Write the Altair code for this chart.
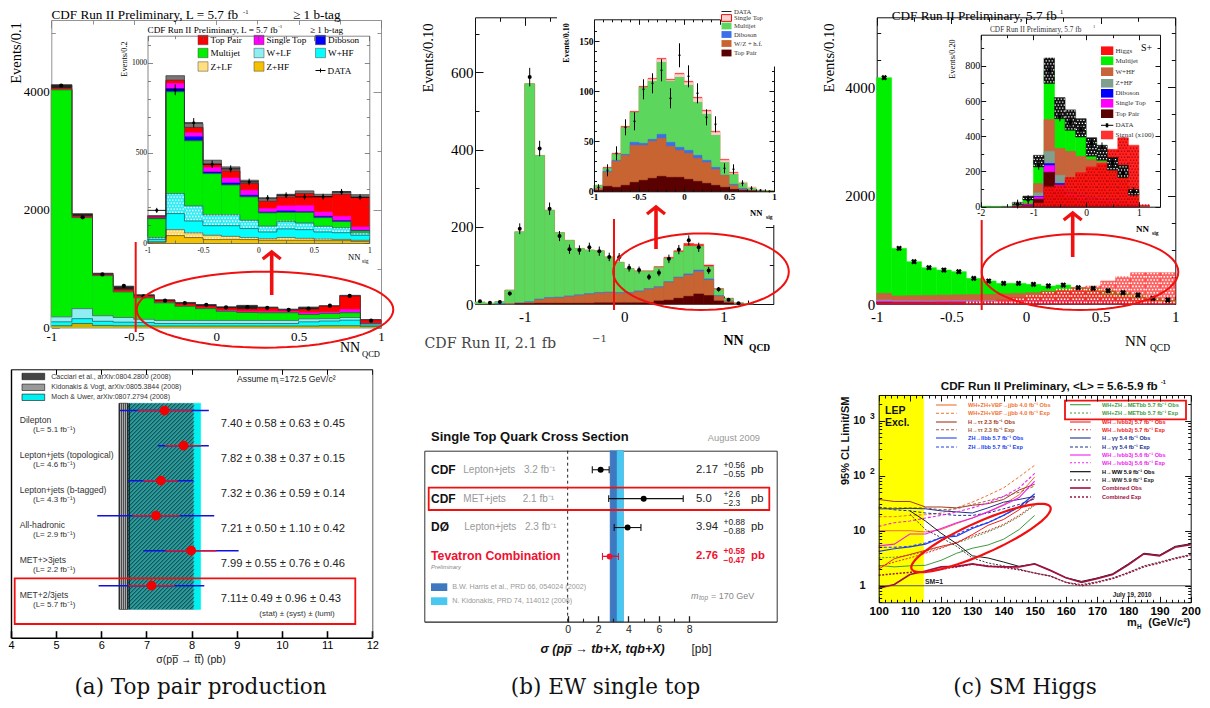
import math
import altair as alt

W, H = 1194, 692
OY = 8
SERIF = "Liberation Serif"
WIDE = "DejaVu Serif"
SANS = "Liberation Sans"
EMPTY = alt.InlineData(values=[{"v": 0}])
L = []

# ---------- data: panel A (top pair, NN_QCD + NN_sig) ----------
a_edges = [-1 + i * 0.125 for i in range(17)]
a_gold = [30, 68, 35, 30, 28, 25, 25, 25, 25, 25, 25, 25, 25, 30, 30, 15]
a_cyan = [96, 150, 105, 90, 85, 68, 68, 68, 68, 68, 68, 68, 96, 110, 124, 40]
a_wlf = [180, 320, 200, 170, 140, 120, 120, 120, 120, 120, 120, 120, 147, 150, 170, 60]
a_green = [4035, 1865, 880, 605, 503, 418, 360, 320, 275, 255, 250, 250, 220, 237, 250, 68]
a_mag = [4040, 1870, 885, 612, 510, 425, 365, 330, 290, 272, 272, 272, 250, 262, 305, 75]
a_red = [4060, 1890, 895, 640, 535, 450, 400, 360, 325, 310, 325, 290, 305, 355, 525, 125]
a_err = [4120, 1930, 920, 700, 555, 470, 425, 390, 350, 375, 345, 310, 345, 370, 545, 135]
a_data_x = [-0.94, -0.81, -0.69, -0.56, -0.44, -0.31, -0.19, -0.06, 0.06, 0.19, 0.31, 0.44, 0.56, 0.69, 0.81, 0.94]
a_data = [4108, 1870, 900, 705, 530, 455, 415, 385, 340, 345, 335, 300, 320, 370, 535, 115]

a2_edges = [-1 + i / 6 for i in range(13)]
a2_gold = [5, 41, 30, 19, 20, 19, 15, 15, 15, 13, 13, 9]
a2_zlf = [6, 74, 56, 43, 37, 30, 24, 30, 26, 22, 20, 15]
a2_cyan = [20, 163, 122, 96, 96, 80, 61, 78, 74, 61, 57, 43]
a2_wlf = [30, 274, 206, 156, 156, 126, 94, 120, 111, 93, 85, 56]
a2_green = [135, 839, 567, 385, 322, 256, 167, 170, 170, 141, 119, 67]
a2_blue = [138, 857, 589, 394, 333, 265, 172, 178, 174, 148, 124, 70]
a2_mag = [140, 885, 611, 419, 361, 293, 191, 206, 207, 172, 148, 89]
a2_red = [148, 903, 641, 437, 400, 330, 232, 255, 274, 256, 270, 252]
a2_err = [152, 928, 663, 459, 422, 348, 246, 270, 289, 270, 285, 268]
a2_data = [181, 850, 667, 437, 411, 339, 250, 265, 256, 257, 283, 254]
a2_derr = [14, 30, 26, 21, 20, 18, 16, 16, 16, 16, 17, 16]

# ---------- data: panel B (single top) ----------
b_edges = [-1.5 + i * 0.1 for i in range(31)]
b_total = [5, 2, 6, 36, 187, 571, 385, 243, 185, 165, 144, 140, 138, 122, 108, 92, 86, 86, 97, 121, 138, 157, 155, 101, 40, 15, 3, 1, 0, 0]
b_green = [5, 2, 6, 36, 187, 571, 385, 243, 185, 165, 144, 140, 138, 122, 108, 92, 85, 85, 95, 118, 135, 150, 150, 97, 38, 14, 3, 1, 0, 0]
b_blue = [0, 0, 1, 1, 3, 6, 13, 17, 18, 21, 24, 27, 30, 31, 30, 30, 34, 40, 45, 58, 70, 78, 88, 65, 22, 8, 1, 0, 0, 0]
b_brown = [0, 0, 0, 1, 2, 4, 11, 15, 16, 19, 22, 25, 28, 29, 28, 28, 32, 38, 43, 56, 68, 75, 84, 62, 20, 7, 1, 0, 0, 0]
b_dark = [0, 0, 0, 0, 1, 1, 2, 2, 2, 2, 2, 2, 3, 3, 3, 3, 3, 3, 8, 10, 15, 20, 26, 22, 8, 3, 0, 0, 0, 0]
b_data_x = [-1.45, -1.35, -1.25, -1.15, -1.05, -0.95, -0.85, -0.75, -0.65, -0.55, -0.45, -0.35, -0.25, -0.15, -0.05, 0.05, 0.15, 0.25, 0.35, 0.45, 0.55, 0.65, 0.75, 0.85, 0.95, 1.05, 1.15]
b_data = [7, 3, 5, 27, 195, 588, 403, 247, 176, 142, 140, 147, 137, 122, 121, 94, 88, 70, 81, 117, 141, 165, 147, 87, 38, 11, 2]
b_derr = [3, 2, 2, 5, 14, 24, 20, 16, 13, 12, 12, 12, 12, 11, 11, 10, 9, 8, 9, 11, 12, 13, 12, 9, 6, 3, 2]

b2_edges = [-1 + i * 0.1 for i in range(21)]
b2_total = [6, 24, 38, 65, 80, 105, 113, 133, 112, 118, 110, 94, 81, 60, 32, 19, 9, 4, 1, 0.5]
b2_green = [6, 23, 37, 64, 79, 104, 110, 129, 110, 114, 106, 89, 77, 56, 29, 17, 8, 3, 1, 0.5]
b2_blue = [3, 20, 31, 37, 49, 48, 52, 57, 49, 44, 41, 36, 31, 24, 16, 7, 3, 1, 0.3, 0]
b2_brown = [3, 19, 30, 36, 46, 46, 50, 53, 45, 41, 38, 33, 29, 22, 16, 6, 2, 1, 0.2, 0]
b2_dark = [1, 5, 4, 6, 9, 11, 13, 15, 14, 14, 12, 10, 8, 6, 4, 2, 1, 0.5, 0, 0]
b2_data_x = [-0.95, -0.85, -0.75, -0.65, -0.55, -0.45, -0.35, -0.25, -0.15, -0.05, 0.05, 0.15, 0.25, 0.35, 0.45, 0.55, 0.65, 0.75, 0.85, 0.95]
b2_data = [4, 21, 38, 64, 70, 102, 108, 121, 93, 136, 115, 98, 74, 67, 23, 22, 8, 3, 1, 0]
b2_derr = [3, 6, 7, 8, 9, 10, 10, 11, 10, 12, 11, 10, 8, 8, 5, 5, 3, 2, 1, 0]

# ---------- data: panel C (Higgs) ----------
c_edges = [-1 + i * 0.1 for i in range(21)]
c_green = [4176, 1027, 781, 670, 627, 597, 473, 424, 381, 381, 363, 332, 350, 301, 289, 246, 209, 166, 105, 74]
c_orange = [197, 150, 155, 160, 165, 170, 175, 180, 190, 197, 209, 228, 246, 258, 235, 165, 135, 105, 60, 40]
c_gray = [75, 60, 60, 58, 58, 60, 60, 62, 65, 70, 72, 75, 80, 80, 70, 60, 50, 40, 30, 20]
c_mag = [50, 42, 42, 42, 45, 45, 48, 50, 52, 55, 55, 58, 58, 55, 50, 45, 40, 30, 25, 15]
c_dark = [25, 22, 22, 22, 22, 22, 24, 24, 25, 25, 25, 25, 25, 25, 25, 22, 20, 15, 10, 8]
c_signal = [20, 20, 20, 22, 25, 28, 30, 43, 74, 117, 160, 228, 270, 307, 332, 424, 504, 578, 578, 578]
c_data_x = [-0.95 + i * 0.1 for i in range(20)]

c2_edges = [-2 + i * 0.2 for i in range(18)]
c2_green = [3, 2, 3, 19, 50, 268, 774, 562, 495, 430, 377, 302, 245, 190, 85, 0, 0]
c2_orange = [0, 0, 1, 5, 20, 132, 496, 332, 315, 287, 268, 255, 190, 150, 70, 0, 0]
c2_gray = [0, 0, 1, 4, 15, 79, 315, 179, 104, 75, 65, 55, 45, 35, 20, 0, 0]
c2_blue = [0, 0, 0, 3, 12, 58, 245, 132, 85, 65, 55, 45, 40, 30, 15, 0, 0]
c2_mag = [0, 0, 0, 3, 11, 55, 234, 123, 75, 55, 48, 40, 35, 25, 12, 0, 0]
c2_dark = [0, 0, 0, 2, 8, 43, 196, 94, 57, 42, 35, 30, 25, 18, 8, 0, 0]
c2_signal = [0, 0, 0, 2, 5, 20, 113, 123, 166, 194, 226, 245, 326, 392, 349, 9, 0]
c2_errlo = [0, 0, 0, 12, 38, 226, 700, 500, 434, 396, 287, 264, 208, 166, 66, 0, 0]
c2_errhi = [0, 0, 0, 25, 60, 292, 845, 620, 550, 500, 392, 349, 279, 236, 98, 0, 0]
c2_data_x = [-1.3, -1.1, -0.9, -0.7, -0.5, -0.3, -0.1, 0.1, 0.3, 0.5, 0.7, 0.9]
c2_data = [15, 40, 235, 775, 510, 480, 440, 360, 340, 250, 190, 85]

# ---------- data: panel D (top cross sections) ----------
d_rows = [6, 5, 4, 3, 2, 1]
d_val = [7.40, 7.82, 7.32, 7.21, 7.99, 7.11]
d_tot_lo = [6.41, 7.25, 6.59, 5.91, 6.93, 5.94]
d_tot_hi = [8.38, 8.38, 8.04, 8.50, 9.04, 8.28]
d_stat_lo = [6.80, 7.42, 6.93, 6.69, 7.42, 6.60]
d_stat_hi = [8.00, 8.21, 7.69, 7.73, 8.55, 7.62]
d_names = ["Dilepton", "Lepton+jets (topological)", "Lepton+jets (b-tagged)", "All-hadronic", "MET+>3jets", "MET+2/3jets"]
d_lumi = ["(L= 5.1 fb\u207b\u00b9)", "(L= 4.6 fb\u207b\u00b9)", "(L= 4.3 fb\u207b\u00b9)", "(L= 2.9 fb\u207b\u00b9)", "(L= 2.2 fb\u207b\u00b9)", "(L= 5.7 fb\u207b\u00b9)"]
d_txt = ["7.40 \u00b1 0.58 \u00b1 0.63 \u00b1 0.45", "7.82 \u00b1 0.38 \u00b1 0.37 \u00b1 0.15", "7.32 \u00b1 0.36 \u00b1 0.59 \u00b1 0.14",
         "7.21 \u00b1 0.50 \u00b1 1.10 \u00b1 0.42", "7.99 \u00b1 0.55 \u00b1 0.76 \u00b1 0.46", "7.11\u00b1 0.49 \u00b1 0.96 \u00b1 0.43"]

# ---------- data: panel E (single top cross sections) ----------
e_rows = [4, 3, 2, 1]
e_val = [2.17, 5.0, 3.94, 2.76]
e_lo = [1.62, 2.7, 3.06, 2.29]
e_hi = [2.73, 7.6, 4.82, 3.34]

# ---------- data: panel F (Higgs limits) ----------
f_m = [100, 105, 110, 115, 120, 125, 130, 135, 140, 145, 150]
f_m2 = [100 + 5 * i for i in range(21)]
f_m3 = [110 + 5 * i for i in range(19)]
jjbb_o = [10, 10, 10, 9.5, 10.5, 13.5, 17, 22, 30, 45, 95]
jjbb_e = [18, 18, 19, 19.5, 21, 26, 33, 44, 60, 95, 155]
tau_o = [37, 34, 34, 27, 27, 26, 29, 31, 37, 55, 70]
tau_e = [26, 26, 26, 26, 24, 25, 30, 35, 42, 50, 65]
llbb_o = [4.2, 4.7, 5.1, 5.7, 7.5, 8, 11, 14, 19, 27, 47]
llbb_e = [5, 5, 5.2, 6, 7.5, 8.5, 11.5, 14, 19, 27, 40]
met_o = [2.35, 2.2, 2.3, 2.35, 2.9, 3.9, 4.8, 5.5, 7, 10.5, 19]
met_e = [3.2, 3.3, 3.6, 4.2, 5, 6, 7.5, 9.5, 12.5, 18, 29]
lv2_o = [2, 3.1, 3.7, 4.4, 5.2, 6, 8.5, 12.5, 16, 24, 42]
lv2_e = [2.2, 2.7, 3.2, 3.9, 4.8, 6.2, 8, 10, 13, 19, 30]
gg_o = [25, 25, 25.5, 25, 23, 22, 21, 26, 33, 37, 42]
gg_e = [27, 24, 23, 21, 20, 19, 19, 21, 25, 30, 38]
lv3_o = [5.3, 5.7, 8.7, 8.7, 11, 14, 17, 22, 29, 40, 80]
lv3_e = [12, 14, 15, 17, 19, 22, 26, 32, 42, 60, 110]
ww_o = [23, 15, 9, 5.8, 3.5, 3.2, 2.7, 2.25, 2.5, 1.9, 1.4, 1.2, 1.38, 1.65, 2.5, 3.9, 3.6, 5.2, 5.8]
ww_e = [20, 10.5, 7.5, 5.2, 3.2, 2.6, 2.3, 2.0, 1.7, 1.5, 1.15, 1.05, 1.18, 1.38, 1.75, 2.3, 2.7, 3.2, 3.7]
cmb_o = [0.9, 1.05, 1.6, 1.85, 2.2, 2.25, 2.5, 2.25, 2.2, 2.2, 2.5, 1.9, 1.4, 1.15, 1.35, 1.6, 2.4, 3.8, 3.5, 5.0, 5.6]
cmb_e = [1.55, 1.65, 1.75, 1.8, 2.0, 2.2, 2.45, 2.3, 2.15, 1.95, 1.7, 1.5, 1.15, 1.0, 1.15, 1.35, 1.7, 2.2, 2.6, 3.1, 3.6]


# ---------- helpers ----------
class P:
    def __init__(s, xd, xr, yd, yr, xt="linear", yt="linear"):
        s.xd, s.xr, s.yd, s.yr = xd, xr, yd, yr
        s.x = alt.Scale(domain=xd, range=[xr[0] - 8, xr[1] - 8], type=xt, nice=False, zero=False)
        s.y = alt.Scale(domain=yd, range=[yr[0] - OY, yr[1] - OY], type=yt, nice=False, zero=False)
        s.kx = abs(xr[1] - xr[0]) / (xd[1] - xd[0])
        if yt == "linear":
            s.ky = abs(yr[1] - yr[0]) / (yd[1] - yd[0])


def bars(p, edges, lows, highs, fill, stroke=None, sw=0.5, opacity=1):
    rows = []
    for i in range(len(edges) - 1):
        lo = lows[i] if isinstance(lows, list) else lows
        if highs[i] > lo:
            rows.append({"a": edges[i], "b": edges[i + 1], "lo": lo, "hi": highs[i]})
    L.append(alt.Chart(alt.InlineData(values=rows)).mark_rect(
        fill=fill, stroke=stroke or fill, strokeWidth=sw, opacity=opacity).encode(
        x=alt.X("a:Q", scale=p.x, axis=None), x2=alt.X2("b"),
        y=alt.Y("lo:Q", scale=p.y, axis=None), y2=alt.Y2("hi")))


def outline(p, edges, tops, color="#333", sw=0.7):
    rows = [{"a": a, "b": b} for a, b in zip(edges, list(tops) + [tops[-1]])]
    L.append(alt.Chart(alt.InlineData(values=rows)).mark_line(color=color, strokeWidth=sw, interpolate="step-after").encode(
        x=alt.X("a:Q", scale=p.x, axis=None), y=alt.Y("b:Q", scale=p.y, axis=None)))


def speck(p, edges, lows, highs, step, color, size, shape="square"):
    rows = []
    dx, dy = step / p.kx, step / p.ky
    for i in range(len(edges) - 1):
        lo = lows[i] if isinstance(lows, list) else lows
        if highs[i] <= lo:
            continue
        r, y = 0, lo + dy / 2
        while y < highs[i]:
            x = edges[i] + dx * (0.25 + 0.5 * (r % 2))
            while x < edges[i + 1]:
                rows.append({"a": x, "b": y})
                x += dx
            y += dy
            r += 1
    L.append(alt.Chart(alt.InlineData(values=rows)).mark_point(
        filled=True, fill=color, size=size, shape=shape, opacity=1, strokeWidth=0).encode(
        x=alt.X("a:Q", scale=p.x, axis=None), y=alt.Y("b:Q", scale=p.y, axis=None)))


def vrules(p, xs, lo, hi, color="black", sw=1, dash=None):
    rows = [{"a": a, "b": b, "c": c} for a, b, c in zip(xs, lo, hi)]
    kw = {"strokeDash": dash} if dash else {}
    L.append(alt.Chart(alt.InlineData(values=rows)).mark_rule(color=color, strokeWidth=sw, **kw).encode(
        x=alt.X("a:Q", scale=p.x, axis=None),
        y=alt.Y("b:Q", scale=p.y, axis=None), y2=alt.Y2("c")))


def hrules(p, lo, hi, ys, color="black", sw=1):
    rows = [{"a": a, "b": b, "c": c} for a, b, c in zip(lo, hi, ys)]
    L.append(alt.Chart(alt.InlineData(values=rows)).mark_rule(color=color, strokeWidth=sw).encode(
        x=alt.X("a:Q", scale=p.x, axis=None), x2=alt.X2("b"),
        y=alt.Y("c:Q", scale=p.y, axis=None)))


def dots(p, xs, ys, color="black", size=16, shape="circle", angle=0, filled=True, sw=0):
    rows = [{"a": a, "b": b} for a, b in zip(xs, ys)]
    L.append(alt.Chart(alt.InlineData(values=rows)).mark_point(
        filled=filled, color=color, size=size, shape=shape, angle=angle, opacity=1, strokeWidth=sw).encode(
        x=alt.X("a:Q", scale=p.x, axis=None), y=alt.Y("b:Q", scale=p.y, axis=None)))


def curve(p, xs, ys, color, sw=1, dash=None):
    rows = [{"a": a, "b": b} for a, b in zip(xs, ys)]
    kw = {"strokeDash": dash} if dash else {}
    L.append(alt.Chart(alt.InlineData(values=rows)).mark_line(color=color, strokeWidth=sw, **kw).encode(
        x=alt.X("a:Q", scale=p.x, axis=None), y=alt.Y("b:Q", scale=p.y, axis=None)))


def ax(p, chan, orient, pos, values, tick=0, labels=False, domain=False, size=10, font=SERIF,
       weight="normal", pad=2, z=0, color="#444", width=0.8, lcolor="black"):
    q = pos - (OY if orient in ("top", "bottom") else 8)
    off = {"top": -q, "bottom": q - H, "left": -q, "right": q - W}[orient]
    kw = dict(orient=orient, offset=off, values=values, title=None, grid=False, labels=labels,
              domain=domain, zindex=z, ticks=tick > 0, labelOverlap=False, labelFlush=False, labelBound=False)
    if tick > 0:
        kw.update(tickSize=tick, tickColor=color, tickWidth=width)
    if domain:
        kw.update(domainColor=color, domainWidth=width)
    if labels:
        kw.update(labelFont=font, labelFontSize=size, labelFontWeight=weight, labelPadding=pad,
                  labelColor=lcolor, labelExpr="datum.value+''", labelAngle=0)
    axis = alt.Axis(**kw)
    dom = p.xd if chan == "x" else p.yd
    base = alt.Chart(alt.InlineData(values=[{"v": dom[0]}])).mark_point(opacity=0)
    if chan == "x":
        L.append(base.encode(x=alt.X("v:Q", scale=p.x, axis=axis), y=alt.value(0)))
    else:
        L.append(base.encode(y=alt.Y("v:Q", scale=p.y, axis=axis), x=alt.value(0)))


def frame(p, xmaj, xmin, ymaj, ymin, t1=7, t2=3.5, z=0, color="#444", width=0.8, sides="tblr"):
    x0, x1 = p.xr
    yb, yt = p.yr
    if "b" in sides:
        ax(p, "x", "top", yb, xmaj, t1, domain=True, z=z, color=color, width=width)
        if xmin: ax(p, "x", "top", yb, xmin, t2, z=z, color=color, width=width)
    if "t" in sides:
        ax(p, "x", "bottom", yt, xmaj, t1, domain=True, z=z, color=color, width=width)
        if xmin: ax(p, "x", "bottom", yt, xmin, t2, z=z, color=color, width=width)
    if "l" in sides:
        ax(p, "y", "right", x0, ymaj, t1, domain=True, z=z, color=color, width=width)
        if ymin: ax(p, "y", "right", x0, ymin, t2, z=z, color=color, width=width)
    if "r" in sides:
        ax(p, "y", "left", x1, ymaj, t1, domain=True, z=z, color=color, width=width)
        if ymin: ax(p, "y", "left", x1, ymin, t2, z=z, color=color, width=width)


def T(x, y, s, size=10, font=SERIF, color="black", align="left", weight="normal", style="normal", angle=0):
    L.append(alt.Chart(EMPTY).mark_text(font=font, fontSize=size, color=color, align=align, baseline="middle",
                                        fontWeight=weight, fontStyle=style, angle=angle).encode(
        x=alt.value(x - 8), y=alt.value(y - OY), text=alt.value(s)))


def R(x0, y0, x1, y1, fill="white", stroke=None, sw=0, opacity=1):
    kw = {"stroke": stroke, "strokeWidth": sw} if stroke else {"strokeWidth": 0}
    if fill:
        kw["fill"] = fill
        kw["fillOpacity"] = opacity
    else:
        kw["fillOpacity"] = 0
    L.append(alt.Chart(EMPTY).mark_rect(**kw).encode(
        x=alt.value(x0 - 8), x2=alt.value(x1 - 8), y=alt.value(y0 - OY), y2=alt.value(y1 - OY)))


def S(x0, y0, x1, y1, color="black", sw=1, dash=None):
    kw = {"strokeDash": dash} if dash else {}
    L.append(alt.Chart(EMPTY).mark_rule(color=color, strokeWidth=sw, **kw).encode(
        x=alt.value(x0 - 8), x2=alt.value(x1 - 8), y=alt.value(y0 - OY), y2=alt.value(y1 - OY)))


def shape(cx, cy, path, color="red", sw=2):
    L.append(alt.Chart(EMPTY).mark_point(shape=path, size=4, filled=False, color=color, strokeWidth=sw, opacity=1).encode(
        x=alt.value(cx - 8), y=alt.value(cy - OY)))


def ellipse(cx, cy, rx, ry, rot=0.0, sw=2):
    c, s = math.cos(math.radians(rot)), math.sin(math.radians(rot))
    pts = []
    for i in range(72):
        t = 2 * math.pi * i / 72
        ex, ey = rx * math.cos(t), ry * math.sin(t)
        pts.append(f"{ex * c - ey * s:.2f},{ex * s + ey * c:.2f}")
    shape(cx, cy, "M" + "L".join(pts) + "Z", "#f01010", sw)


def arrow(x, y0, y1, hw=9, hh=7):
    S(x, y0, x, y1, "#f01010", 3.6)
    shape(x, y1, f"M{-hw},{hh}L0,0L{hw},{hh}", "#f01010", 3.4)


# ==================== Panel A main ====================
pa = P([-1, 1], [51.3, 381], [0, 5220], [327.5, 20])
frame(pa, [-1, -0.5, 0, 0.5, 1], [-0.75, -0.25, 0.25, 0.75], [0, 2000, 4000], [1000, 3000, 5000], t1=8, t2=4, color="#777")
ax(pa, "x", "bottom", 327.5, [-1, -0.5, 0, 0.5, 1], labels=True, size=13, pad=3)
ax(pa, "y", "left", 51.3, [0, 2000, 4000], labels=True, size=13, pad=2)
bars(pa, a_edges, 0, a_err, "#222")
bars(pa, a_edges, 0, a_red, "#ff0000")
bars(pa, a_edges, 0, a_mag, "#ff00ff")
bars(pa, a_edges, 0, a_green, "#00ee00")
bars(pa, a_edges, 0, a_wlf, "#8feef2")
bars(pa, a_edges, 0, a_cyan, "#00ffff")
bars(pa, a_edges, 0, a_gold, "#d8b000")
for tops in (a_err, a_green, a_wlf, a_cyan, a_gold):
    outline(pa, a_edges, tops, "#333", 0.6)
dots(pa, a_data_x, a_data, "black", 18)
T(51.5, 15, "CDF Run II Preliminary, L = 5.7 fb", 13.2)
T(243, 11.5, "-1", 6.5)
T(293, 15, "\u2265 1 b-tag", 13.2)
T(17, 53, "Events/0.1", 14.5, angle=270, align="center")
T(340, 348, "NN", 14)
T(362, 354, "QCD", 8.5)
R(118, 25, 372, 265)
# ---------- inset A ----------
pa2 = P([-1, 1], [147.5, 369.3], [0, 1150], [243, 35.7])
bars(pa2, a2_edges, 0, a2_err, "#777")
bars(pa2, a2_edges, 0, a2_red, "#ff0000")
bars(pa2, a2_edges, 0, a2_mag, "#ff00ff")
bars(pa2, a2_edges, 0, a2_blue, "#0000ff")
bars(pa2, a2_edges, 0, a2_green, "#00ee00")
bars(pa2, a2_edges, 0, a2_wlf, "#2feef5")
speck(pa2, a2_edges, a2_cyan, a2_wlf, 3, "white", 2)
bars(pa2, a2_edges, 0, a2_cyan, "#00ffff")
bars(pa2, a2_edges, 0, a2_zlf, "#ffd860")
speck(pa2, a2_edges, a2_gold, a2_zlf, 3, "white", 1.5)
bars(pa2, a2_edges, 0, a2_gold, "#f5c000")
for tops in (a2_err, a2_red, a2_green, a2_wlf, a2_cyan, a2_zlf, a2_gold):
    outline(pa2, a2_edges, tops, "#333", 0.6)
centers = [(a2_edges[i] + a2_edges[i + 1]) / 2 for i in range(12)]
vrules(pa2, centers, [v - e for v, e in zip(a2_data, a2_derr)], [v + e for v, e in zip(a2_data, a2_derr)], "black", 1)
hrules(pa2, a2_edges[:-1], a2_edges[1:], a2_data, "black", 0.9)
dots(pa2, centers, a2_data, "black", 9)
frame(pa2, [-1, -0.5, 0, 0.5, 1], [-0.75, -0.25, 0.25, 0.75], [0, 500, 1000], [100, 200, 300, 400, 600, 700, 800, 900, 1100], t1=5, t2=3, z=1, color="#555", width=0.7)
ax(pa2, "x", "bottom", 243, [-1, -0.5, 0, 0.5, 1], labels=True, size=7.5, pad=3, z=1)
ax(pa2, "y", "left", 147.5, [0, 500, 1000], labels=True, size=7.5, pad=1, z=1)
T(147.5, 29.5, "CDF Run II Preliminary, L = 5.7 fb", 9.2)
T(278, 26, "-1", 5)
T(310, 29.5, "\u2265 1 b-tag", 9.2)
T(124.7, 59, "Events/0.2", 8.3, angle=270, align="center")
T(348, 257, "NN", 8.5)
T(362, 261, "sig", 5.5)
a_leg = [("Top Pair", 198, 40, "#ff0000"), ("Single Top", 254, 40, "#ff00ff"), ("Diboson", 315.5, 40, "#0000ff"),
         ("Multijet", 198, 53, "#00ee00"), ("W+LF", 254, 53, "#8feef2"), ("W+HF", 315.5, 53, "#00ffff"),
         ("Z+LF", 198, 66.5, "#ffe080"), ("Z+HF", 254, 66.5, "#f5c000")]
for name, x, y, col in a_leg:
    R(x, y - 4.7, x + 10, y + 4.7, col, "#444", 0.5)
    T(x + 12.5, y, name, 9.2)
S(315.5, 70.5, 325.5, 70.5, "black", 1)
S(320.5, 68.5, 320.5, 72.5, "black", 1)
T(327.5, 70.5, "DATA", 9.2)
S(135.7, 242, 135.7, 332, "#f01010", 2)
arrow(271.7, 295, 252)
ellipse(265, 309.7, 128.3, 38, 0, 2)

# ==================== Panel B main ====================
pb = P([-1.5, 1.5], [475, 773.3], [0, 743], [304, 17.3])
frame(pb, [-1, 0, 1], [-1.25, -0.75, -0.5, -0.25, 0.25, 0.5, 0.75, 1.25], [0, 200, 400, 600], [100, 300, 500, 700], t1=8, t2=4, color="#111", width=1)
ax(pb, "x", "bottom", 304, [-1, 0, 1], labels=True, size=15, pad=5)
ax(pb, "y", "left", 475, [0, 200, 400, 600], labels=True, size=15, pad=2)
bars(pb, b_edges, 0, b_total, "#ff2020")
bars(pb, b_edges, 0, b_green, "#5cd65c")
bars(pb, b_edges, 0, b_blue, "#3a6fe8")
bars(pb, b_edges, 0, b_brown, "#c86432")
bars(pb, b_edges, 0, b_dark, "#5a0000")
vrules(pb, b_data_x, [v - e for v, e in zip(b_data, b_derr)], [v + e for v, e in zip(b_data, b_derr)], "black", 1)
dots(pb, b_data_x, b_data, "black", 16)
T(429, 58, "Events/0.10", 14.5, angle=270, align="center")
T(424.5, 344, "CDF Run II, 2.1 fb", 14.2, WIDE, "#444")
T(592, 339, "\u22121", 10, WIDE, "#444")
T(723.5, 341, "NN", 14, weight="bold")
T(749, 348, "QCD", 9.5, weight="bold")
R(557, 0, 780, 225)
# ---------- inset B ----------
pb2 = P([-1, 1], [594, 774], [0, 172], [191.3, 19.3])
pb2r = P([-1, 0.4], [594, 720], [0, 125], [191.3, 66])
bars(pb2, b2_edges, 0, b2_total, "#ff2020")
bars(pb2, b2_edges, b2_green, [t - 1 if t > 10 else t for t in b2_total], "#ffd0d0", "#ffd0d0")
bars(pb2, b2_edges, 0, b2_green, "#5cd65c")
bars(pb2, b2_edges, 0, b2_blue, "#3a6fe8")
bars(pb2, b2_edges, 0, b2_brown, "#c86432")
bars(pb2, b2_edges, 0, b2_dark, "#5a0000")
vrules(pb2, b2_data_x, [v - e for v, e in zip(b2_data, b2_derr)], [v + e for v, e in zip(b2_data, b2_derr)], "black", 1)
dots(pb2, b2_data_x, b2_data, "black", 5)
ymaj = [0, 50, 100, 150]
ymin = [10, 20, 30, 40, 60, 70, 80, 90, 110, 120, 130, 140, 160]
xmaj = [-1, -0.5, 0, 0.5, 1]
xmin = [-0.9, -0.8, -0.7, -0.6, -0.4, -0.3, -0.2, -0.1, 0.1, 0.2, 0.3, 0.4, 0.6, 0.7, 0.8, 0.9]
frame(pb2, xmaj, xmin, ymaj, ymin, t1=5, t2=2.5, z=1, color="#111", width=1, sides="bl")
ax(pb2r, "x", "bottom", 19.3, [-1, -0.5, 0, 0.4], 5, domain=True, z=1, color="#111", width=1)
ax(pb2r, "x", "bottom", 19.3, [-0.9, -0.8, -0.7, -0.6, -0.4, -0.3, -0.2, -0.1, 0.1, 0.2, 0.3], 2.5, z=1, color="#111", width=1)
ax(pb2r, "y", "left", 774, [0, 50, 100], 5, domain=True, z=1, color="#111", width=1)
ax(pb2r, "y", "left", 774, [10, 20, 30, 40, 60, 70, 80, 90, 110, 120], 2.5, z=1, color="#111", width=1)
ax(pb2, "x", "bottom", 191.3, xmaj, labels=True, size=9, pad=1, z=1, weight="bold")
ax(pb2, "y", "left", 594, ymaj, labels=True, size=9.5, pad=1, z=1, weight="bold")
T(567, 43, "Events/0.10", 8, angle=270, align="center", weight="bold")
T(750, 213, "NN", 8.5, weight="bold")
T(766, 217, "sig", 5.5, weight="bold")
S(721.5, 11.5, 731.5, 11.5, "#222", 1)
T(734, 11.5, "DATA", 6.7, color="#333")
b_leg = [("Single Top", 18, "#ffd0d0", "#f01010"), ("Multijet", 26, "#5cd65c", None), ("Diboson", 34.5, "#3a6fe8", None),
         ("W/Z + h.f.", 43.5, "#c86432", None), ("Top Pair", 53, "#5a0000", None)]
for name, y, col, st in b_leg:
    R(721.5, y - 3.4, 731.5, y + 3.4, col, st, 1 if st else 0)
    T(734, y, name, 6.7, color="#333")
S(614, 219, 614, 310, "#f01010", 2)
arrow(656, 249, 207)
ellipse(701, 271.7, 87.8, 38.3, 0, 2)

# ==================== Panel C main ====================
pc = P([-1, 1], [876.7, 1175.3], [0, 5290], [304, 17.3])
frame(pc, [-1, -0.5, 0, 0.5, 1], [-0.75, -0.25, 0.25, 0.75], [0, 2000, 4000], [500, 1000, 1500, 2500, 3000, 3500, 4500, 5000], t1=8, t2=4, color="#111", width=1)
ax(pc, "x", "bottom", 304, [-1, -0.5, 0, 0.5, 1], labels=True, size=15, pad=5)
ax(pc, "y", "left", 876.7, [0, 2000, 4000], labels=True, size=15, pad=2)
bars(pc, c_edges, 0, c_green, "#00f000")
bars(pc, c_edges, 0, c_orange, "#c8643c")
bars(pc, c_edges, 0, c_gray, "#7f9f8f")
bars(pc, c_edges, 0, c_mag, "#ff00ff")
bars(pc, c_edges, 0, c_dark, "#5a0000")
bars(pc, c_edges, 0, c_signal, "#ff2020", "#ff2020", 0.6, 0.7)
speck(pc, c_edges, 0, c_signal, 3.2, "white", 2.4)
dots(pc, c_data_x, c_green, "black", 34, "cross", 45)
dots(pc, c_data_x, c_green, "black", 10)
T(891.7, 15.5, "CDF Run II Preliminary, 5.7 fb", 13.2)
T(1060, 12, "1", 6.5)
T(830, 58, "Events/0.10", 14.5, angle=270, align="center")
T(1125, 341, "NN", 15)
T(1150, 348, "QCD", 9.5)
R(945, 24, 1168, 240)
# ---------- inset C ----------
pc2 = P([-2, 1.4], [980.7, 1160], [0, 977], [206.7, 34.7])
bars(pc2, c2_edges, 0, c2_green, "#00f000")
bars(pc2, c2_edges, 0, c2_orange, "#c8643c")
bars(pc2, c2_edges, 0, c2_gray, "#7f9f8f")
bars(pc2, c2_edges, 0, c2_blue, "#0000ff")
bars(pc2, c2_edges, 0, c2_mag, "#ff00ff")
bars(pc2, c2_edges, 0, c2_dark, "#5a0000")
bars(pc2, c2_edges, 0, c2_signal, "#ff1010", "#ff1010", 0.6, 0.92)
speck(pc2, c2_edges, 0, c2_signal, 3, "#a00000", 1.5)
bars(pc2, c2_edges, c2_errlo, c2_errhi, "#111")
speck(pc2, c2_edges, c2_errlo, c2_errhi, 3, "white", 1.5)
dots(pc2, c2_data_x, c2_data, "black", 14)
vrules(pc2, c2_data_x, [v - 25 for v in c2_data], [v + 25 for v in c2_data], "black", 1)
ymaj = [0, 200, 400, 600, 800]
ymin = [100, 300, 500, 700, 900]
xmaj = [-2, -1, 0, 1]
frame(pc2, xmaj, [-1.5, -0.5, 0.5], ymaj, ymin, t1=5, t2=3, z=1, color="#111", width=1)
ax(pc2, "x", "bottom", 206.7, xmaj, labels=True, size=9.5, pad=1, z=1)
ax(pc2, "y", "left", 980.7, ymaj, labels=True, size=10, pad=1, z=1)
T(990, 29.5, "CDF Run II Preliminary, 5.7 fb", 7.3, color="#333")
T(1093, 27, "1", 4.5, color="#333")
T(953, 59, "Events/0.20", 8.3, angle=270, align="center")
T(1136, 229, "NN", 9, weight="bold")
T(1152, 233, "sig", 5.5, weight="bold")
T(1141, 48, "S+", 10)
c_leg = [("Higgs", 50.7, "#ff1010"), ("Multijet", 60.7, "#00f000"), ("W+HF", 71.7, "#c8643c"), ("Z+HF", 83.3, "#7f9f8f"),
         ("Diboson", 93.3, "#0000ff"), ("Single Top", 103.3, "#ff00ff"), ("Top Pair", 113.7, "#5a0000"), ("Signal (x100)", 135, "#ff3030")]
for name, y, col in c_leg:
    R(1101, y - 4.3, 1113.3, y + 4.3, col)
    T(1115.5, y, name, 7, color="#333")
S(1101, 125.3, 1113.3, 125.3, "black", 1)
S(1107, 123.3, 1107, 127.3, "black", 2.5)
T(1115.5, 125.3, "DATA", 7, color="#333")
S(981.7, 220, 981.7, 310, "#f01010", 2)
arrow(1072.7, 257, 213)
ellipse(1080, 272, 98.3, 38, 0, 2)

# ==================== Panel D ====================
pd = P([4, 12], [11, 372.3], [-0.486, 7.18], [637.7, 369.3])
ints = [4, 5, 6, 7, 8, 9, 10, 11, 12]
bars(pd, [6.40, 6.58], 0.32, [6.21], "white", "#111", 0.6)
bars(pd, [6.58, 8.05], 0.32, [6.21], "#2a9a9c")
bars(pd, [8.05, 8.20], 0.32, [6.21], "#00f0f0")
hatch = []
for k in range(0, 280, 4):
    x0, y0 = 128.0 + k, 403.3
    x1, y1 = x0 - 206, 609.3
    if x0 > 193.9:
        y0 = 403.3 + (x0 - 193.9)
        x0 = 193.9
    if x1 < 128:
        y1 = 609.3 - (128 - x1)
        x1 = 128
    if y1 > y0:
        hatch.append(f"M{x0 - 160:.1f},{y0 - 500:.1f}L{x1 - 160:.1f},{y1 - 500:.1f}")
shape(160, 500, "".join(hatch), "#0a3030", 0.9)
stripes = "".join(f"M{x:.1f},-103L{x:.1f},103" for x in [-5.8, -3.8, -1.8, 0.2, 2.2, 4.2])
shape(125, 506.3, stripes, "#111", 1.1)
hrules(pd, d_tot_lo, d_tot_hi, d_rows, "#1010e0", 1.5)
hrules(pd, d_stat_lo, d_stat_hi, d_rows, "#e01030", 1.5)
dots(pd, d_val, d_rows, "#f00000", 95)
frame(pd, ints, None, [-0.486], None, t1=7, z=1, color="black", width=1.6, sides="b")
ax(pd, "x", "bottom", 369.3, ints, 5, domain=True, z=1, color="black", width=1)
ax(pd, "y", "right", 11, [7], 0.1, domain=True, z=1, color="black", width=1.4)
ax(pd, "y", "left", 372.3, [7], 0.1, domain=True, z=1, color="#333", width=0.8)
ax(pd, "x", "bottom", 637.7, ints, labels=True, size=11, font=SANS, pad=2, z=1)
d_leg = ["Cacciari et al., arXiv:0804.2800 (2008)", "Kidonakis & Vogt, arXiv:0805.3844 (2008)", "Moch & Uwer, arXiv:0807.2794 (2008)"]
for s_, y, col in zip(d_leg, [376.5, 387.3, 397.3], ["#444", "#999", "#00f0f0"]):
    R(22, y - 3.2, 44.7, y + 3.2, col, "#111", 0.6)
    T(51.3, y, s_, 7, SANS, "#333")
T(237, 379, "Assume m", 8.7, SANS, "#222")
T(277, 381.5, "t", 5.5, SANS, "#222")
T(279.5, 379, "=172.5 GeV/c\u00b2", 8.7, SANS, "#222")
for i in range(6):
    y = 420 + i * 35
    T(19.7, y, d_names[i], 8.6, SANS, "#333")
    T(33, y + 10, d_lumi[i], 8, SANS, "#333")
    T(220.7, y + 4, d_txt[i], 11.2, SANS, "#222")
T(259.3, 614, "(stat) \u00b1 (syst) \u00b1 (lumi)", 8, SANS, "#333")
R(14.7, 578.3, 355.3, 624, None, "#f01010", 1.8)
T(191, 659.5, "\u03c3(pp\u0305 \u2192 tt\u0305) (pb)", 10.6, SANS, "#222", "center")
T(200.5, 687.5, "(a) Top pair production", 21.5, WIDE, "#111", "center")

# ==================== Panel E ====================
pe = P([-9.43, 13.75], [424.3, 776.7], [-1.26, 4.66], [621.7, 450.7])
bars(pe, [2.79, 3.66], -1.26, [4.66], "#3d78c0")
bars(pe, [3.25, 3.66], -1.26, [4.66], "#48c8f0")
vrules(pe, [0], [-1.26], [4.66], "#222", 1, [3, 3])
hrules(pe, e_lo, e_hi, e_rows, "#111", 1.1)
vrules(pe, e_lo[:3], [r - 0.12 for r in e_rows[:3]], [r + 0.12 for r in e_rows[:3]], "#111", 1.1)
vrules(pe, e_hi[:3], [r - 0.12 for r in e_rows[:3]], [r + 0.12 for r in e_rows[:3]], "#111", 1.1)
vrules(pe, e_lo[3:], [0.88], [1.12], "#f01030", 1.1)
vrules(pe, e_hi[3:], [0.88], [1.12], "#f01030", 1.1)
hrules(pe, e_lo[3:], e_hi[3:], e_rows[3:], "#f01030", 1.1)
dots(pe, e_val[:3], e_rows[:3], "black", 36)
dots(pe, e_val[3:], e_rows[3:], "#f01030", 36)
ax(pe, "x", "top", 621.7, [0, 2, 4, 6, 8], 6, domain=True, z=1, color="#222", width=1.3)
ax(pe, "x", "top", 621.7, [1, 3, 5, 7], 3.5, z=1, color="#222", width=1.1)
ax(pe, "x", "bottom", 450.7, [0], 0.1, domain=True, z=0, color="#333", width=1)
ax(pe, "y", "right", 424.3, [0], 0.1, domain=True, z=1, color="#333", width=1)
ax(pe, "y", "left", 776.7, [0], 0.1, domain=True, z=1, color="#333", width=1)
ax(pe, "x", "bottom", 621.7, [0, 2, 4, 6, 8], labels=True, size=10.5, font=SANS, pad=3, z=1, lcolor="#222")
T(431, 436.5, "Single Top Quark Cross Section", 13, SANS, "#111", weight="bold")
T(760, 437.5, "August 2009", 9.3, SANS, "#999", "right")
e_rowsY = [469.5, 498.5, 527, 556]
e_lab = [("CDF", "Lepton+jets", 463.3, "3.2 fb\u207b\u00b9", 524), ("CDF", "MET+jets", 463.3, "2.1 fb\u207b\u00b9", 522.7), ("D\u00d8", "Lepton+jets", 464.3, "2.3 fb\u207b\u00b9", 525)]
for y, (a, b, bx, c, cx) in zip(e_rowsY, e_lab):
    T(431, y, a, 12, SANS, "#111", weight="bold")
    T(bx, y, b, 10, SANS, "#999")
    T(cx, y, c, 10, SANS, "#999")
T(431, 556, "Tevatron Combination", 12.3, SANS, "#f01030", weight="bold")
T(431, 566.7, "Preliminary", 6, SANS, "#888", style="italic")
e_num = [("2.17", "+0.56", "\u22120.55", "#222", "normal"), ("5.0", "+2.6", "\u22122.3", "#222", "normal"),
         ("3.94", "+0.88", "\u22120.88", "#222", "normal"), ("2.76", "+0.58", "\u22120.47", "#f01030", "bold")]
for y, (v, up, dn, col, wt) in zip(e_rowsY, e_num):
    T(696, y, v, 11.3, SANS, col, weight=wt)
    T(723.5, y - 5, up, 8.5, SANS, col, weight=wt)
    T(723.5, y + 4, dn, 8.5, SANS, col, weight=wt)
    T(751, y, "pb", 11.3, SANS, col, weight=wt)
R(428.7, 487.7, 769.3, 510, None, "#f01010", 1.8)
R(431, 583.3, 447.3, 591, "#3d78c0")
T(452.3, 587.3, "B.W. Harris et al., PRD 66, 054024 (2002)", 7.2, SANS, "#999")
R(431, 597.3, 447.3, 605, "#48c8f0")
T(452.3, 601.3, "N. Kidonakis, PRD 74, 114012 (2006)", 7.2, SANS, "#999")
T(691, 596, "m", 9, SANS, "#888", style="italic")
T(699, 598, "top", 6.5, SANS, "#888", style="italic")
T(711, 596, "= 170 GeV", 9, SANS, "#888")
T(540.5, 649, "\u03c3 (pp\u0305 \u2192 tb+X, tqb+X)", 12.5, SANS, "#111", weight="bold", style="italic")
T(691.5, 649, "[pb]", 12, SANS, "#222")
T(605.5, 687.5, "(b) EW single top", 21.5, WIDE, "#111", "center")

# ==================== Panel F ====================
pf = P([100, 200], [878.7, 1190.7], [0.5, 2930], [602.3, 395], yt="log")
bars(pf, [100, 114.4], 0.5, [2930], "#ffff00")
hrules(pf, [100], [200], [1], "#555", 1.2)
f_series = [
    (f_m, jjbb_o, "#f07030", 1, None), (f_m, jjbb_e, "#f07030", 1, [3, 2]),
    (f_m, tau_o, "#a03a20", 1, None), (f_m, tau_e, "#a06040", 1, [3, 2]),
    (f_m, llbb_o, "#2040f0", 1.2, None), (f_m, llbb_e, "#2040f0", 1.1, [3, 2]),
    (f_m, met_o, "#3f9a3f", 1, None), (f_m, met_e, "#3f9a3f", 1, [2, 1.5]),
    (f_m, lv2_o, "#f02020", 1, None), (f_m, lv2_e, "#f02020", 1, [2, 1.5]),
    (f_m, gg_o, "#203090", 1, None), (f_m, gg_e, "#203090", 1, [3, 2]),
    (f_m, lv3_o, "#f020f0", 1.1, None), (f_m, lv3_e, "#f020f0", 1.1, [3, 2]),
    (f_m3, ww_o, "black", 0.9, None), (f_m3, ww_e, "#222", 0.9, [2, 1.5]),
    (f_m2, cmb_o, "#a01040", 1.7, None), (f_m2, cmb_e, "#a01040", 1.5, [2, 1.5]),
]
for xs, ys, col, sw, dash in f_series:
    curve(pf, xs, ys, col, sw, dash)
yminor = [v * 10 ** k for k in range(-1, 4) for v in (2, 3, 4, 5, 6, 7, 8, 9) if 0.5 <= v * 10 ** k <= 2930]
xmaj = list(range(100, 201, 10))
xmin = list(range(102, 200, 2))
frame(pf, xmaj, xmin, [1, 10, 100, 1000], yminor, t1=6, t2=3, z=1, color="#111", width=1)
ax(pf, "x", "bottom", 602.3, xmaj, labels=True, size=11.5, font=SANS, weight="bold", pad=3, z=1)
T(940.7, 386, "CDF Run II Preliminary, <L> = 5.6-5.9 fb", 11.7, SANS, "#111", weight="bold")
T(1161, 382, "-1", 5.5, SANS, "#111", weight="bold")
T(846, 440.8, "95% CL Limit/SM", 11, SANS, "#111", "center", "bold", angle=270)
T(865.5, 421, "10", 11, SANS, "#111", "right", "bold")
T(870, 416, "3", 8.5, SANS, "#111", weight="bold")
T(865.5, 476, "10", 11, SANS, "#111", "right", "bold")
T(870, 471, "2", 8.5, SANS, "#111", weight="bold")
T(865.5, 531, "10", 11, SANS, "#111", "right", "bold")
T(865.5, 586, "1", 11, SANS, "#111", "right", "bold")
T(1127, 623, "m", 11, SANS, "#111", weight="bold")
T(1137, 626.5, "H", 6.5, SANS, "#111", weight="bold")
T(1190.5, 623, "(GeV/c\u00b2)", 11, SANS, "#111", "right", "bold")
T(885, 411, "LEP", 10.5, SANS, "#111", weight="bold")
T(885, 422.7, "Excl.", 10.5, SANS, "#111", weight="bold")
T(925, 582, "SM=1", 6.8, SANS, "#222", weight="bold")
T(1112.7, 594.5, "July 19, 2010", 6.3, SANS, "#222", weight="bold")
left_leg = [("WH+ZH+VBF\u2192jjbb 4.0 fb\u207b\u00b9 Obs", 405, "#f07030", None), ("WH+ZH+VBF\u2192jjbb 4.0 fb\u207b\u00b9 Exp", 413.3, "#f07030", [3, 2]),
            ("H\u2192\u03c4\u03c4 2.3 fb\u207b\u00b9 Obs", 422, "#a03a20", None), ("H\u2192\u03c4\u03c4 2.3 fb\u207b\u00b9 Exp", 429.7, "#a06040", [3, 2]),
            ("ZH\u2192llbb 5.7 fb\u207b\u00b9 Obs", 438, "#2040f0", None), ("ZH\u2192llbb 5.7 fb\u207b\u00b9 Exp", 447, "#2040f0", [3, 2])]
right_leg = [("WH+ZH\u2192METbb 5.7 fb\u207b\u00b9 Obs", 404.7, "#3f9a3f", None), ("WH+ZH\u2192METbb 5.7 fb\u207b\u00b9 Exp", 413, "#3f9a3f", [2, 2]),
             ("WH\u2192l\u03bdbb2j 5.7 fb\u207b\u00b9 Obs", 422, "#f02020", None), ("WH\u2192l\u03bdbb2j 5.7 fb\u207b\u00b9 Exp", 429.7, "#f02020", [2, 2]),
             ("H\u2192\u03b3\u03b3 5.4 fb\u207b\u00b9 Obs", 438, "#203090", None), ("H\u2192\u03b3\u03b3 5.4 fb\u207b\u00b9 Exp", 447, "#203090", [3, 2]),
             ("WH\u2192l\u03bdbb3j 5.6 fb\u207b\u00b9 Obs", 455, "#f020f0", None), ("WH\u2192l\u03bdbb3j 5.6 fb\u207b\u00b9 Exp", 462.7, "#f020f0", [2, 2]),
             ("H\u2192WW 5.9 fb\u207b\u00b9 Obs", 471.7, "black", None), ("H\u2192WW 5.9 fb\u207b\u00b9 Exp", 480, "#222", [2, 2]),
             ("Combined Obs", 488, "#a01040", None), ("Combined Exp", 497, "#a01040", [2, 2])]
for name, y, col, dash in left_leg:
    S(936, y, 956.7, y, col, 1.1, dash)
    T(968, y, name, 5.6, SANS, col, weight="bold")
for name, y, col, dash in right_leg:
    S(1070, y, 1090.7, y, col, 1.6 if name.startswith("Comb") else 1.1, dash)
    T(1102, y, name, 5.6, SANS, col, weight="bold")
R(1065, 400.7, 1186, 419.3, None, "#f01010", 1.8)
ellipse(981, 538, 76, 16, -24, 2.2)
T(1025, 687.5, "(c) SM Higgs", 21.5, WIDE, "#111", "center")

chart = alt.layer(*L).resolve_scale(x="independent", y="independent").resolve_axis(x="independent", y="independent").properties(
    width=W, height=H, padding=0,
    autosize=alt.AutoSizeParams(type="none", contains="padding")
).configure_view(stroke=None)
chart.save("out.html", embed_options={"renderer": "svg", "actions": False})
